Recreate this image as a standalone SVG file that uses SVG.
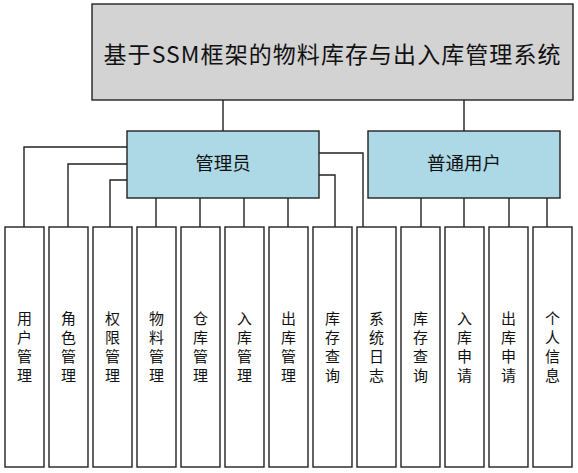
<svg xmlns="http://www.w3.org/2000/svg" width="578" height="473" viewBox="0 0 578 473">
<style>
.box{stroke:#222;stroke-width:1.4}
.root{fill:#d3d3d3}
.mid{fill:#add8e6}
.leaf{fill:#fff}
.t{font-family:"Noto Sans CJK SC","Liberation Sans",sans-serif;fill:#111;text-anchor:middle;dominant-baseline:central}
.lt{font-size:15px}
.conn{fill:none;stroke:#222;stroke-width:1.4}
</style>
<rect width="578" height="473" fill="#fff"/>
<g id="connectors">
<path class="conn" d="M223,100V131M464,100V131"/>
<path class="conn" d="M127,147H24V227M127,164H68V227M127,180H110V227"/>
<path class="conn" d="M156,198V227M200,198V227M244,198V227M288,198V227"/>
<path class="conn" d="M319,153H363V227M319,175H335V227"/>
<path class="conn" d="M421,198V227M464,198V227M509,198V227M547,198V227"/>
</g>
<g id="root"><rect class="box root" x="92" y="4" width="481" height="96"/><text class="t" x="332" y="53" font-size="23" textLength="457" lengthAdjust="spacing">基于SSM框架的物料库存与出入库管理系统</text></g>
<g id="admin"><rect class="box mid" x="127" y="131" width="192" height="67"/><text class="t" x="223" y="162" font-size="18.5">管理员</text></g>
<g id="user"><rect class="box mid" x="368" y="131" width="192" height="67"/><text class="t" x="464" y="162" font-size="18.5">普通用户</text></g>
<g id="n1"><rect class="box leaf" x="5" y="227" width="39" height="240"/><text class="t lt" x="24.5"><tspan x="24.5" y="317">用</tspan><tspan x="24.5" y="336">户</tspan><tspan x="24.5" y="355">管</tspan><tspan x="24.5" y="374">理</tspan></text></g>
<g id="n2"><rect class="box leaf" x="49" y="227" width="39" height="240"/><text class="t lt" x="68.5"><tspan x="68.5" y="317">角</tspan><tspan x="68.5" y="336">色</tspan><tspan x="68.5" y="355">管</tspan><tspan x="68.5" y="374">理</tspan></text></g>
<g id="n3"><rect class="box leaf" x="93" y="227" width="39" height="240"/><text class="t lt" x="112.5"><tspan x="112.5" y="317">权</tspan><tspan x="112.5" y="336">限</tspan><tspan x="112.5" y="355">管</tspan><tspan x="112.5" y="374">理</tspan></text></g>
<g id="n4"><rect class="box leaf" x="137" y="227" width="39" height="240"/><text class="t lt" x="156.5"><tspan x="156.5" y="317">物</tspan><tspan x="156.5" y="336">料</tspan><tspan x="156.5" y="355">管</tspan><tspan x="156.5" y="374">理</tspan></text></g>
<g id="n5"><rect class="box leaf" x="181" y="227" width="39" height="240"/><text class="t lt" x="200.5"><tspan x="200.5" y="317">仓</tspan><tspan x="200.5" y="336">库</tspan><tspan x="200.5" y="355">管</tspan><tspan x="200.5" y="374">理</tspan></text></g>
<g id="n6"><rect class="box leaf" x="225" y="227" width="39" height="240"/><text class="t lt" x="244.5"><tspan x="244.5" y="317">入</tspan><tspan x="244.5" y="336">库</tspan><tspan x="244.5" y="355">管</tspan><tspan x="244.5" y="374">理</tspan></text></g>
<g id="n7"><rect class="box leaf" x="269" y="227" width="39" height="240"/><text class="t lt" x="288.5"><tspan x="288.5" y="317">出</tspan><tspan x="288.5" y="336">库</tspan><tspan x="288.5" y="355">管</tspan><tspan x="288.5" y="374">理</tspan></text></g>
<g id="n8"><rect class="box leaf" x="313" y="227" width="39" height="240"/><text class="t lt" x="332.5"><tspan x="332.5" y="317">库</tspan><tspan x="332.5" y="336">存</tspan><tspan x="332.5" y="355">查</tspan><tspan x="332.5" y="374">询</tspan></text></g>
<g id="n9"><rect class="box leaf" x="357" y="227" width="39" height="240"/><text class="t lt" x="376.5"><tspan x="376.5" y="317">系</tspan><tspan x="376.5" y="336">统</tspan><tspan x="376.5" y="355">日</tspan><tspan x="376.5" y="374">志</tspan></text></g>
<g id="n10"><rect class="box leaf" x="401" y="227" width="39" height="240"/><text class="t lt" x="420.5"><tspan x="420.5" y="317">库</tspan><tspan x="420.5" y="336">存</tspan><tspan x="420.5" y="355">查</tspan><tspan x="420.5" y="374">询</tspan></text></g>
<g id="n11"><rect class="box leaf" x="445" y="227" width="39" height="240"/><text class="t lt" x="464.5"><tspan x="464.5" y="317">入</tspan><tspan x="464.5" y="336">库</tspan><tspan x="464.5" y="355">申</tspan><tspan x="464.5" y="374">请</tspan></text></g>
<g id="n12"><rect class="box leaf" x="489" y="227" width="39" height="240"/><text class="t lt" x="508.5"><tspan x="508.5" y="317">出</tspan><tspan x="508.5" y="336">库</tspan><tspan x="508.5" y="355">申</tspan><tspan x="508.5" y="374">请</tspan></text></g>
<g id="n13"><rect class="box leaf" x="533" y="227" width="39" height="240"/><text class="t lt" x="552.5"><tspan x="552.5" y="317">个</tspan><tspan x="552.5" y="336">人</tspan><tspan x="552.5" y="355">信</tspan><tspan x="552.5" y="374">息</tspan></text></g>
</svg>
